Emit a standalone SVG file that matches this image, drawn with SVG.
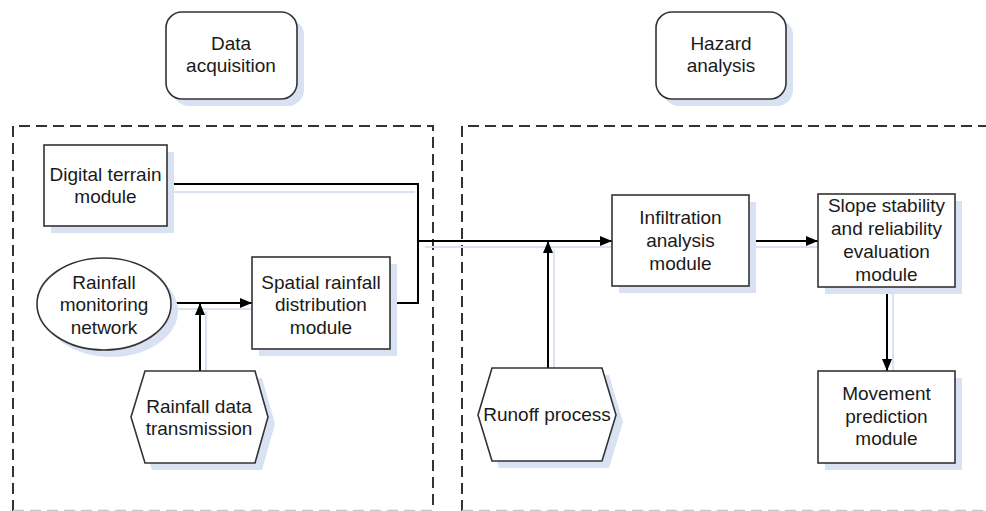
<svg xmlns="http://www.w3.org/2000/svg" width="986" height="511" viewBox="0 0 986 511">
  <style>
    .node { fill: #ffffff; stroke: #333333; stroke-width: 1.6; }
    .shadow { fill: #d8e2f3; stroke: none; }
    .frame { fill: none; stroke: #333333; stroke-width: 2; stroke-dasharray: 11 6; }
    .frame-base { fill: none; stroke: #c8c8c8; stroke-width: 1.5; stroke-dasharray: 11 6; }
    .wire { fill: none; stroke: #000000; stroke-width: 2; }
    .wire-shadow { fill: none; stroke: #d8e2f3; stroke-width: 2; }
    .label { font-family: "Liberation Sans", Arial, sans-serif; font-size: 19px; fill: #1a1a1a; text-anchor: middle; }
  </style>
  <defs>
    <marker id="arrow" viewBox="0 0 12 10" refX="12" refY="5" markerWidth="12" markerHeight="10" markerUnits="userSpaceOnUse" orient="auto">
      <path d="M0,0 L12,5 L0,10 Z" fill="#000000"/>
    </marker>
  </defs>

  <rect width="986" height="511" fill="#ffffff"/>

  <!-- stage frames (bottom edges run along the lower border) -->
  <g id="frames">
    <path class="frame" d="M13,511 V126 H433 V511"/>
    <path class="frame" d="M462,511 V126 H990"/>
    <path class="frame-base" d="M13,510.5 H433 M462,510.5 H990"/>
  </g>

  <!-- connector shadows -->
  <g id="connector-shadows">
    <path class="wire-shadow" d="M167,192 H415"/>
    <path class="wire-shadow" d="M425,247 H612"/>
    <path class="wire-shadow" d="M755,247 H818"/>
    <path class="wire-shadow" d="M171,309 H258"/>
    <path class="wire-shadow" d="M206,312 V470"/>
    <path class="wire-shadow" d="M554,250 V375"/>
    <path class="wire-shadow" d="M893,293 V377"/>
  </g>

  <!-- connectors -->
  <g id="connectors">
    <path class="wire" d="M167,184 H418 V303 H390"/>
    <path class="wire" d="M418,241 H612" marker-end="url(#arrow)"/>
    <path class="wire" d="M548,368 V241" marker-end="url(#arrow)"/>
    <path class="wire" d="M171,303 H252" marker-end="url(#arrow)"/>
    <path class="wire" d="M200,371 V303" marker-end="url(#arrow)"/>
    <path class="wire" d="M749,241 H818" marker-end="url(#arrow)"/>
    <path class="wire" d="M887,287 V371" marker-end="url(#arrow)"/>
  </g>

  <g id="data-acquisition">
    <rect class="shadow" x="173" y="19" width="131" height="87" rx="16"/>
    <rect class="node" x="166" y="12" width="131" height="87" rx="16"/>
    <text class="label" x="231" y="50">Data</text>
    <text class="label" x="231" y="72">acquisition</text>
  </g>

  <g id="hazard-analysis">
    <rect class="shadow" x="663" y="19" width="130" height="87" rx="16"/>
    <rect class="node" x="656" y="12" width="130" height="87" rx="16"/>
    <text class="label" x="721" y="50">Hazard</text>
    <text class="label" x="721" y="72">analysis</text>
  </g>

  <g id="digital-terrain">
    <rect class="shadow" x="51" y="152" width="123" height="81"/>
    <rect class="node" x="44" y="145" width="123" height="81"/>
    <text class="label" x="105.5" y="181">Digital terrain</text>
    <text class="label" x="105.5" y="203">module</text>
  </g>

  <g id="rainfall-monitoring">
    <ellipse class="shadow" cx="111" cy="311" rx="67" ry="46"/>
    <ellipse class="node" cx="104" cy="304" rx="67" ry="46"/>
    <text class="label" x="104" y="289">Rainfall</text>
    <text class="label" x="104" y="311">monitoring</text>
    <text class="label" x="104" y="334">network</text>
  </g>

  <g id="spatial-rainfall">
    <rect class="shadow" x="259" y="264" width="138" height="92"/>
    <rect class="node" x="252" y="257" width="138" height="92"/>
    <text class="label" x="321" y="289">Spatial rainfall</text>
    <text class="label" x="321" y="311">distribution</text>
    <text class="label" x="321" y="334">module</text>
  </g>

  <g id="rainfall-transmission">
    <polygon class="shadow" points="152,378 262,378 275,424 262,470 152,470 138,424"/>
    <polygon class="node" points="145,371 255,371 268,417 255,463 145,463 131,417"/>
    <text class="label" x="199" y="413">Rainfall data</text>
    <text class="label" x="199" y="435">transmission</text>
  </g>

  <g id="runoff-process">
    <polygon class="shadow" points="499,375 609,375 623,422 609,468 499,468 485,422"/>
    <polygon class="node" points="492,368 602,368 616,415 602,461 492,461 478,415"/>
    <text class="label" x="547" y="421">Runoff process</text>
  </g>

  <g id="infiltration">
    <rect class="shadow" x="619" y="202" width="137" height="91"/>
    <rect class="node" x="612" y="195" width="137" height="91"/>
    <text class="label" x="680.5" y="224">Infiltration</text>
    <text class="label" x="680.5" y="247">analysis</text>
    <text class="label" x="680.5" y="270">module</text>
  </g>

  <g id="slope-stability">
    <rect class="shadow" x="825" y="201" width="137" height="93"/>
    <rect class="node" x="818" y="194" width="137" height="93"/>
    <text class="label" x="886.5" y="212">Slope stability</text>
    <text class="label" x="886.5" y="235">and reliability</text>
    <text class="label" x="886.5" y="258">evaluation</text>
    <text class="label" x="886.5" y="281">module</text>
  </g>

  <g id="movement-prediction">
    <rect class="shadow" x="825" y="378" width="137" height="92"/>
    <rect class="node" x="818" y="371" width="137" height="92"/>
    <text class="label" x="886.5" y="400">Movement</text>
    <text class="label" x="886.5" y="423">prediction</text>
    <text class="label" x="886.5" y="445">module</text>
  </g>
</svg>
